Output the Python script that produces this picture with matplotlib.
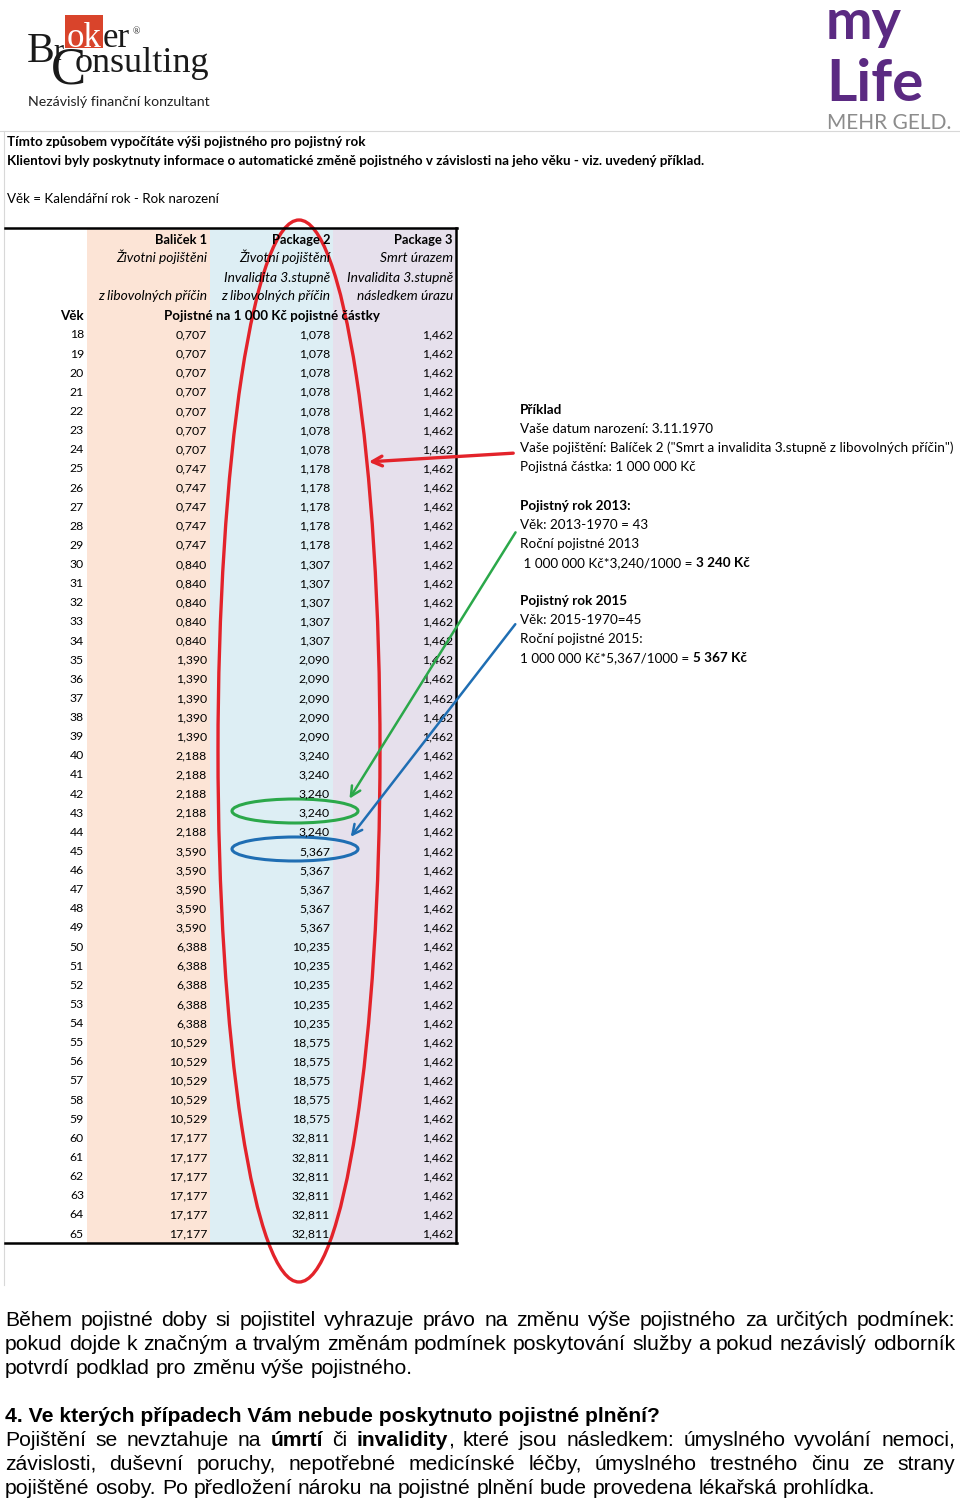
import matplotlib
matplotlib.use('Agg')
import matplotlib.pyplot as plt
from matplotlib import font_manager
from matplotlib.patches import Ellipse, Rectangle

# ---- data ----
ages = ['18', '19', '20', '21', '22', '23', '24', '25', '26', '27', '28', '29',
        '30', '31', '32', '33', '34', '35', '36', '37', '38', '39', '40', '41',
        '42', '43', '44', '45', '46', '47', '48', '49', '50', '51', '52', '53',
        '54', '55', '56', '57', '58', '59', '60', '61', '62', '63', '64', '65']
pkg1 = ['0,707', '0,707', '0,707', '0,707', '0,707', '0,707', '0,707',
        '0,747', '0,747', '0,747', '0,747', '0,747',
        '0,840', '0,840', '0,840', '0,840', '0,840',
        '1,390', '1,390', '1,390', '1,390', '1,390',
        '2,188', '2,188', '2,188', '2,188', '2,188',
        '3,590', '3,590', '3,590', '3,590', '3,590',
        '6,388', '6,388', '6,388', '6,388', '6,388',
        '10,529', '10,529', '10,529', '10,529', '10,529',
        '17,177', '17,177', '17,177', '17,177', '17,177', '17,177']
pkg2 = ['1,078', '1,078', '1,078', '1,078', '1,078', '1,078', '1,078',
        '1,178', '1,178', '1,178', '1,178', '1,178',
        '1,307', '1,307', '1,307', '1,307', '1,307',
        '2,090', '2,090', '2,090', '2,090', '2,090',
        '3,240', '3,240', '3,240', '3,240', '3,240',
        '5,367', '5,367', '5,367', '5,367', '5,367',
        '10,235', '10,235', '10,235', '10,235', '10,235',
        '18,575', '18,575', '18,575', '18,575', '18,575',
        '32,811', '32,811', '32,811', '32,811', '32,811', '32,811']
pkg3 = ['1,462'] * 48

head1 = ['Baliček 1', 'Životni pojištěni', '', 'z libovolných příčin']
head2 = ['Package 2', 'Životní pojištění', 'Invalidita 3.stupně', 'z libovolných příčin']
head3 = ['Package 3', 'Smrt úrazem', 'Invalidita 3.stupně', 'následkem úrazu']

intro = ['Tímto způsobem vypočítáte výši pojistného pro pojistný rok',
         'Klientovi byly poskytnuty informace o automatické změně pojistného v závislosti na jeho věku - viz. uvedený příklad.']
formula = 'Věk = Kalendářní rok - Rok narození'

example = [
    [('Příklad', 'bold')],
    [('Vaše datum narození: 3.11.1970', 'normal')],
    [('Vaše pojištění: Balíček 2 ("Smrt a invalidita 3.stupně z libovolných příčin")', 'normal')],
    [('Pojistná částka: 1 000 000 Kč', 'normal')],
    [],
    [('Pojistný rok 2013:', 'bold')],
    [('Věk: 2013-1970 = 43', 'normal')],
    [('Roční pojistné 2013', 'normal')],
    [(' 1 000 000 Kč*3,240/1000 = ', 'normal'), ('3 240 Kč', 'bold')],
    [],
    [('Pojistný rok 2015', 'bold')],
    [('Věk: 2015-1970=45', 'normal')],
    [('Roční pojistné 2015:', 'normal')],
    [('1 000 000 Kč*5,367/1000 = ', 'normal'), ('5 367 Kč', 'bold')],
]

body = [
    ('j', 'Během pojistné doby si pojistitel vyhrazuje právo na změnu výše pojistného za určitých podmínek:'),
    ('j', 'pokud dojde k značným a trvalým změnám podmínek poskytování služby a pokud nezávislý odborník'),
    ('l', 'potvrdí podklad pro změnu výše pojistného.'),
    ('-', ''),
    ('b', '4. Ve kterých případech Vám nebude poskytnuto pojistné plnění?'),
    ('j', 'Pojištění se nevztahuje na *úmrtí* či *invalidity*, které jsou následkem: úmyslného vyvolání nemoci,'),
    ('j', 'závislosti, duševní poruchy, nepotřebné medicínské léčby, úmyslného trestného činu ze strany'),
    ('l', 'pojištěné osoby. Po předložení nároku na pojistné plnění bude provedena lékařská prohlídka.'),
]

# ---- fonts ----
names = {f.name for f in font_manager.fontManager.ttflist}
SHEET = 'Lato' if 'Lato' in names else 'DejaVu Sans'
BODY, BODY_SIZE = 'Liberation Sans', 15.2
SERIF = 'Liberation Serif'

fig = plt.figure(figsize=(9.6, 15.04), dpi=100)
ax = fig.add_axes([0, 0, 1, 1])
ax.set_xlim(0, 960)
ax.set_ylim(1504, 0)
ax.axis('off')
rend = fig.canvas.get_renderer()


def put(x, y, s, size, weight='normal', style='normal', ha='left', color='black', family=SHEET):
    return ax.text(x, y, s, fontsize=size, fontweight=weight, fontstyle=style, ha=ha,
                   va='baseline', color=color, family=family)


def width(s, size, weight='normal', family=SHEET):
    t = put(0, 0, s, size, weight, family=family)
    w = t.get_window_extent(renderer=rend).width
    t.remove()
    return w


def rich(x, y, parts, size, family=SHEET):
    for s, w in parts:
        put(x, y, s, size, w, family=family)
        x += width(s.replace(' ', '\u00a0'), size, w, family)


# ---- logos ----
ax.add_patch(Rectangle((65, 15), 38, 33, color='#D9442B', lw=0))
put(27, 62, 'B', 30, family=SERIF, color='#1a1a1a')
put(53, 60, 'r', 22, family=SERIF, color='#1a1a1a')
put(67, 47, 'ok', 25, family=SERIF, color='white')
put(103, 47, 'er', 25, family=SERIF, color='#1a1a1a')
put(133, 34, '®', 7, family=SERIF, color='#1a1a1a')
put(51, 84, 'C', 38, family=SERIF, color='#1a1a1a')
put(75, 72, 'onsulting', 26, family=SERIF, color='#1a1a1a')
put(28, 106, 'Nezávislý finanční konzultant', 10.2, color='#222222')

put(826, 39, 'my', 40, weight='bold', color='#5B2A82')
put(826, 101, 'Life', 42, weight='bold', color='#5B2A82')
put(827, 129, 'MEHR GELD.', 15, color='#8C8C8C')

# screenshot frame
ax.plot([0, 960], [131, 131], color='#d8d8d8', lw=0.8)
ax.plot([4, 4], [131, 1285], color='#d8d8d8', lw=0.8)

# ---- intro text ----
put(7, 146, intro[0], 9.6, 'bold')
put(7, 165, intro[1], 9.6, 'bold')
put(7, 203, formula, 9.6)

# ---- table ----
top, bottom = 228, 1243
cols = [(87, 210, '#FCE4D6'), (210, 333, '#DDEEF4'), (333, 456, '#E6E0EC')]
for x0, x1, c in cols:
    ax.add_patch(Rectangle((x0, top), x1 - x0, bottom - top, color=c, lw=0))
ax.plot([5, 457], [top, top], color='black', lw=1.8)
ax.plot([5, 457], [bottom, bottom], color='black', lw=1.8)
ax.plot([456, 456], [top, bottom], color='black', lw=1.8)

FS = 8.8
hy = [239, 258, 277, 296]
for i in range(4):
    b = hy[i] + 4.5
    if i == 0:
        w, st, sz = 'bold', 'normal', 9.3
    else:
        w, st, sz = 'normal', 'italic', 9.9
    put(207, b, head1[i], sz, w, st, ha='right')
    put(330, b, head2[i], sz, w, st, ha='right')
    put(453, b, head3[i], sz, w, st, ha='right')
put(84, 319.5, 'Věk', 9.6, 'bold', ha='right')
put(272, 319.5, 'Pojistné na 1 000 Kč pojistné částky', 9.6, 'bold', ha='center')

step = (1233 - 334) / 47
for i, a in enumerate(ages):
    b = 334 + i * step + 4.5
    put(84, b, a, FS, ha='right')
    put(207, b, pkg1[i], FS, ha='right')
    put(330, b, pkg2[i], FS, ha='right')
    put(453, b, pkg3[i], FS, ha='right')

# ---- annotations ----
RED, GREEN, BLUE = '#E3232A', '#2BA84A', '#1F6EB3'
ax.add_patch(Ellipse((299, 751), 162, 1062, fill=False, ec=RED, lw=2.4))
ax.add_patch(Ellipse((295, 811), 126, 24, fill=False, ec=GREEN, lw=2.2))
ax.add_patch(Ellipse((295, 849), 126, 24, fill=False, ec=BLUE, lw=2.2))
ax.annotate('', xy=(366, 462), xytext=(516, 453),
            arrowprops=dict(arrowstyle='->,head_length=0.7,head_width=0.35', color=RED, lw=2.4))
ax.annotate('', xy=(348, 801), xytext=(517, 530),
            arrowprops=dict(arrowstyle='->,head_length=0.7,head_width=0.35', color=GREEN, lw=1.8))
ax.annotate('', xy=(349, 839), xytext=(517, 622),
            arrowprops=dict(arrowstyle='->,head_length=0.7,head_width=0.35', color=BLUE, lw=1.8))

# ---- example block ----
for i, parts in enumerate(example):
    if parts:
        rich(520, 414 + i * 19.1, parts, 9.7)

# ---- body text ----
sp = width('a a', BODY_SIZE, family=BODY) - width('aa', BODY_SIZE, family=BODY)
for i, (kind, line) in enumerate(body):
    b = 1326 + i * 24
    if kind == '-':
        continue
    if kind == 'b':
        put(5, b, line, BODY_SIZE, 'bold', family=BODY)
        continue
    words = []
    for wd in line.split(' '):
        if wd.startswith('*'):
            core = wd.strip('*,')
            tail = wd.replace('*', '')[len(core):]
            parts = [(core, 'bold')] + ([(tail, 'normal')] if tail else [])
        else:
            parts = [(wd, 'normal')]
        words.append(parts)
    ws = [sum(width(s, BODY_SIZE, w, BODY) for s, w in p) for p in words]
    gap = (955 - 5 - sum(ws)) / (len(words) - 1) if kind == 'j' else sp
    x = 5
    for p, wdt in zip(words, ws):
        rich(x, b, p, BODY_SIZE, BODY)
        x += wdt + gap

fig.savefig('out.png', dpi=100)
